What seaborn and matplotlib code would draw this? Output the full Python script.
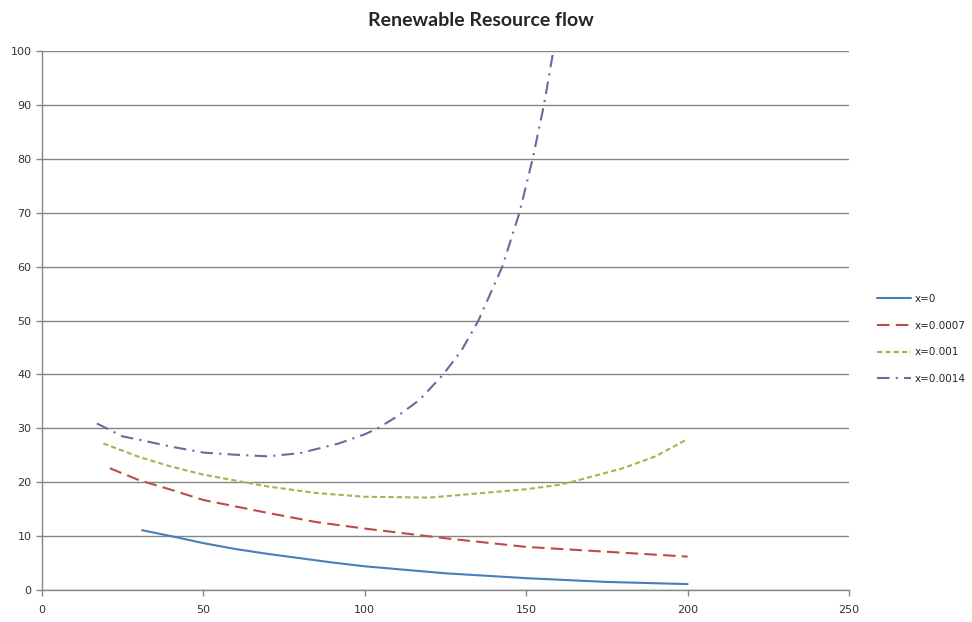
import matplotlib
matplotlib.use("Agg")
import matplotlib.pyplot as plt
import seaborn as sns

# === Datos ===
x_0 = [31, 40, 50, 60, 70, 80, 90, 100, 125, 150, 175, 200]
y_0 = [11.1, 10.0, 8.7, 7.6, 6.7, 5.9, 5.1, 4.4, 3.1, 2.2, 1.5, 1.1]

x_0007 = [21, 30, 40, 50, 60, 70, 85, 100, 125, 150, 175, 200]
y_0007 = [22.6, 20.4, 18.6, 16.7, 15.5, 14.3, 12.6, 11.4, 9.6, 8.0, 7.1, 6.2]

x_001 = [19, 30, 40, 50, 60, 70, 85, 100, 120, 150, 160, 165, 180, 190, 200]
y_001 = [27.2, 24.7, 22.9, 21.4, 20.3, 19.2, 18.0, 17.3, 17.15, 18.7, 19.5, 20.2, 22.6, 24.8, 28.0]

x_0014 = [17, 25, 30, 40, 50, 60, 70, 80, 92, 100, 104, 110, 117, 124.3, 130, 135.2,
          142.6, 147.9, 152, 155.5, 158.4]
y_0014 = [30.9, 28.5, 27.9, 26.6, 25.5, 25.1, 24.8, 25.4, 27.2, 28.9, 30.0, 32.2, 35.3, 40,
          44.5, 50, 60, 70, 80, 90, 100]

series = [
    ("x=0", x_0, y_0, "#4A7EBB", None),
    ("x=0.0007", x_0007, y_0007, "#BE4B48", (6, 3)),
    ("x=0.001", x_001, y_001, "#98B954", (2.5, 1.5)),
    ("x=0.0014", x_0014, y_0014, "#7D60A0", (6, 3, 1, 3)),
]

sns.set_style("white")
plt.rcParams["font.family"] = ["DejaVu Sans"]

fig = plt.figure(figsize=(9.72, 6.22), dpi=100)
ax = fig.add_axes([0.0432, 0.0514, 0.8303, 0.8666])

for label, xs, ys, color, dash in series:
    sns.lineplot(x=xs, y=ys, ax=ax, color=color, linewidth=1.5, label=label)
    if dash is not None:
        ax.lines[-1].set_dashes(dash)

ax.set_xlim(0, 250)
ax.set_ylim(0, 100)
ax.set_xticks(range(0, 251, 50))
ax.set_yticks(range(0, 101, 10))
ax.yaxis.grid(True, color="#868686", linewidth=1)
ax.xaxis.grid(False)
ax.set_axisbelow(True)
for side in ["top", "right"]:
    ax.spines[side].set_visible(False)
for side in ["left", "bottom"]:
    ax.spines[side].set_color("#868686")
    ax.spines[side].set_linewidth(1)
ax.tick_params(axis="both", direction="out", length=4, width=1, color="#868686",
               labelsize=8, labelcolor="#333333", left=True, bottom=True)
ax.tick_params(axis="x", pad=7)

fig.text(0.495, 0.967, "Renewable Resource flow", ha="center", va="center",
         fontsize=14, fontweight="bold", family=["Lato", "DejaVu Sans"])

ax.legend(loc="center left", bbox_to_anchor=(0.902, 0.455), bbox_transform=fig.transFigure,
          frameon=False, fontsize=7.5, handlelength=3.3, labelspacing=1.6, handletextpad=0.3,
          borderaxespad=0, borderpad=0)

fig.savefig("out.png", dpi=100)
